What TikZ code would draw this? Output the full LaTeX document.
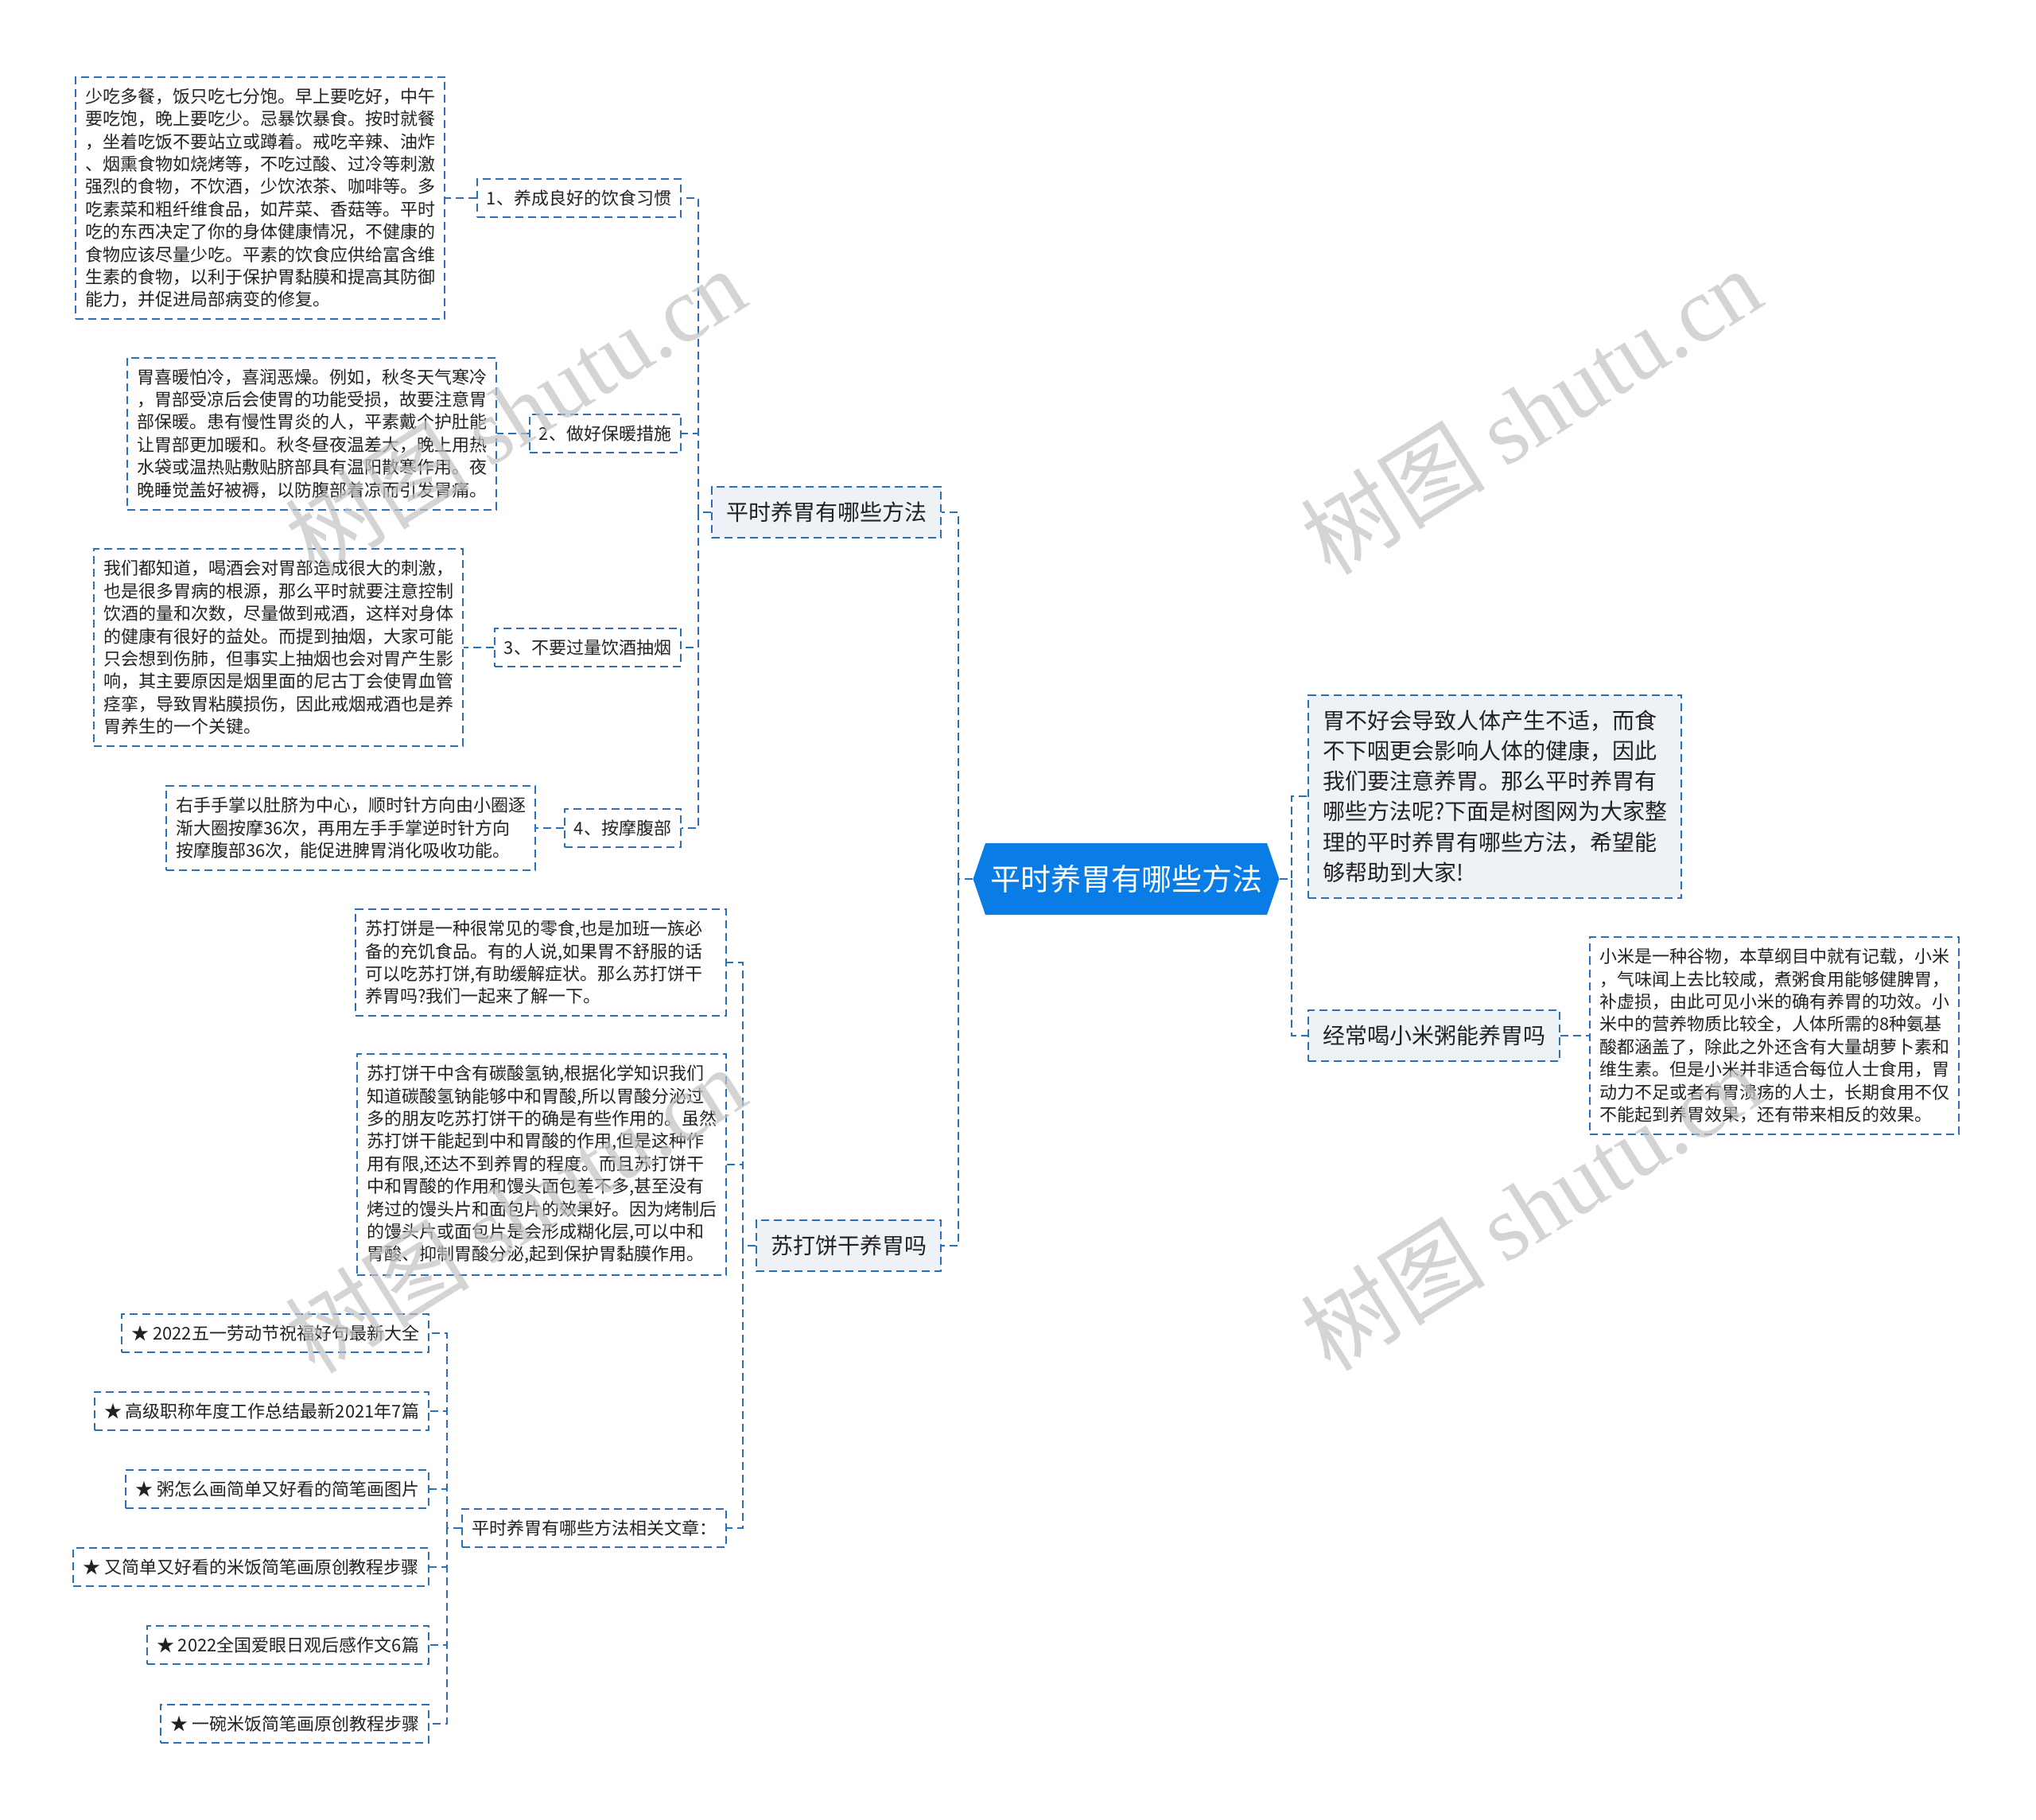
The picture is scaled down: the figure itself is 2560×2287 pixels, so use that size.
\documentclass[tikz,border=0pt]{standalone}
\usepackage{fontspec}
\setmainfont{Noto Sans CJK SC}
\newfontfamily\wmserif{Liberation Serif}
\usetikzlibrary{shapes.symbols, calc}
\definecolor{ShutuBlue}{RGB}{42, 112, 186}
\definecolor{ShutuRoot}{RGB}{10, 124, 230}
\definecolor{ShutuGray}{RGB}{238, 242, 246}
\definecolor{ShutuText}{RGB}{34, 34, 34}
\definecolor{ShutuMark}{RGB}{195, 195, 195}
\tikzset{
  mmbox/.style={draw=ShutuBlue, line width=1pt, dash pattern=on 5pt off 3pt, text=ShutuText, align=left},
  leaf/.style={mmbox, fill=white, font=\fontsize{11}{14.2}\selectfont, inner xsep=6pt, inner ysep=7pt},
  topic/.style={mmbox, fill=ShutuGray, font=\fontsize{14}{19.1}\selectfont, inner xsep=9pt, inner ysep=9.5pt},
  conn/.style={draw=ShutuBlue, line width=1pt, dash pattern=on 5pt off 3pt},
  wmark/.style={text=ShutuMark, opacity=0.7, font=\fontsize{58}{58}\selectfont, rotate=32}
}

\begin{document}
\begin{tikzpicture}[x=0.5pt, y=-0.5pt]

\useasboundingbox[fill=white] (0,0) rectangle (2560,2287);

% centre
\node[signal, signal to=east and west, signal pointer angle=142, fill=ShutuRoot, text=white,
      font=\fontsize{19}{22}\selectfont, minimum height=45pt, inner xsep=3pt] (root) at (1416,1105) {平时养胃有哪些方法};

\coordinate (busR) at (1624,0);
\coordinate (busL) at (1205,0);
\coordinate (busA) at (878,0);
\coordinate (busS) at (934,0);
\coordinate (busK) at (562,0);

% right side
\node[topic, anchor=west] (intro) at (1644,1001) {胃不好会导致人体产生不适，而食\\
不下咽更会影响人体的健康，因此\\
我们要注意养胃。那么平时养胃有\\
哪些方法呢?下面是树图网为大家整\\
理的平时养胃有哪些方法，希望能\\
够帮助到大家!};
\node[topic, anchor=west] (millet) at (1644,1302) {经常喝小米粥能养胃吗};
\node[leaf, anchor=west] (millettext) at (1998,1302) {小米是一种谷物，本草纲目中就有记载，小米\\
，气味闻上去比较咸，煮粥食用能够健脾胃，\\
补虚损，由此可见小米的确有养胃的功效。小\\
米中的营养物质比较全，人体所需的8种氨基\\
酸都涵盖了，除此之外还含有大量胡萝卜素和\\
维生素。但是小米并非适合每位人士食用，胃\\
动力不足或者有胃溃疡的人士，长期食用不仅\\
不能起到养胃效果，还有带来相反的效果。};

\foreach \c in {intro, millet}
  \draw[conn] (root.east) -- (root.east -| busR) |- (\c.west);
\draw[conn] (millet.east) -- (millettext.west);

% left side, first branch
\node[topic, anchor=east] (ways) at (1184,644) {平时养胃有哪些方法};
\node[topic, anchor=east] (soda) at (1184,1566) {苏打饼干养胃吗};

\foreach \c in {ways, soda}
  \draw[conn] (root.west) -- (root.west -| busL) |- (\c.east);

\node[leaf, anchor=east] (habit) at (857,249) {1、养成良好的饮食习惯};
\node[leaf, anchor=east] (warm) at (857,545) {2、做好保暖措施};
\node[leaf, anchor=east] (drink) at (857,814) {3、不要过量饮酒抽烟};
\node[leaf, anchor=east] (rub) at (857,1041) {4、按摩腹部};

\foreach \c in {habit, warm, drink, rub}
  \draw[conn] (ways.west) -- (ways.west -| busA) |- (\c.east);

\node[leaf, anchor=east] (habittext) at (560,249) {少吃多餐，饭只吃七分饱。早上要吃好，中午\\
要吃饱，晚上要吃少。忌暴饮暴食。按时就餐\\
，坐着吃饭不要站立或蹲着。戒吃辛辣、油炸\\
、烟熏食物如烧烤等，不吃过酸、过冷等刺激\\
强烈的食物，不饮酒，少饮浓茶、咖啡等。多\\
吃素菜和粗纤维食品，如芹菜、香菇等。平时\\
吃的东西决定了你的身体健康情况，不健康的\\
食物应该尽量少吃。平素的饮食应供给富含维\\
生素的食物，以利于保护胃黏膜和提高其防御\\
能力，并促进局部病变的修复。};
\node[leaf, anchor=east] (warmtext) at (625,545) {胃喜暖怕冷，喜润恶燥。例如，秋冬天气寒冷\\
，胃部受凉后会使胃的功能受损，故要注意胃\\
部保暖。患有慢性胃炎的人，平素戴个护肚能\\
让胃部更加暖和。秋冬昼夜温差大，晚上用热\\
水袋或温热贴敷贴脐部具有温阳散寒作用。夜\\
晚睡觉盖好被褥，以防腹部着凉而引发胃痛。};
\node[leaf, anchor=east] (drinktext) at (583,814) {我们都知道，喝酒会对胃部造成很大的刺激，\\
也是很多胃病的根源，那么平时就要注意控制\\
饮酒的量和次数，尽量做到戒酒，这样对身体\\
的健康有很好的益处。而提到抽烟，大家可能\\
只会想到伤肺，但事实上抽烟也会对胃产生影\\
响，其主要原因是烟里面的尼古丁会使胃血管\\
痉挛，导致胃粘膜损伤，因此戒烟戒酒也是养\\
胃养生的一个关键。};
\node[leaf, anchor=east] (rubtext) at (674,1041) {右手手掌以肚脐为中心，顺时针方向由小圈逐\\
渐大圈按摩36次，再用左手手掌逆时针方向\\
按摩腹部36次，能促进脾胃消化吸收功能。};

\foreach \c in {habit, warm, drink, rub}
  \draw[conn] (\c.west) -- (\c text.east);

% left side, second branch
\node[leaf, anchor=east, text width=221pt] (sodaintro) at (914,1210) {苏打饼是一种很常见的零食,也是加班一族必\\
备的充饥食品。有的人说,如果胃不舒服的话\\
可以吃苏打饼,有助缓解症状。那么苏打饼干\\
养胃吗?我们一起来了解一下。};
\node[leaf, anchor=east] (sodatext) at (914,1464) {苏打饼干中含有碳酸氢钠,根据化学知识我们\\
知道碳酸氢钠能够中和胃酸,所以胃酸分泌过\\
多的朋友吃苏打饼干的确是有些作用的。虽然\\
苏打饼干能起到中和胃酸的作用,但是这种作\\
用有限,还达不到养胃的程度。而且苏打饼干\\
中和胃酸的作用和馒头面包差不多,甚至没有\\
烤过的馒头片和面包片的效果好。因为烤制后\\
的馒头片或面包片是会形成糊化层,可以中和\\
胃酸、抑制胃酸分泌,起到保护胃黏膜作用。};
\node[leaf, anchor=east] (related) at (914,1921) {平时养胃有哪些方法相关文章：};

\foreach \c in {sodaintro, sodatext, related}
  \draw[conn] (soda.west) -- (soda.west -| busS) |- (\c.east);

\foreach \n/\y/\t in {art1/1676/{★ 2022五一劳动节祝福好句最新大全},
                      art2/1774/{★ 高级职称年度工作总结最新2021年7篇},
                      art3/1872/{★ 粥怎么画简单又好看的简笔画图片},
                      art4/1970/{★ 又简单又好看的米饭简笔画原创教程步骤},
                      art5/2068/{★ 2022全国爱眼日观后感作文6篇},
                      art6/2167/{★ 一碗米饭简笔画原创教程步骤}} {
  \node[leaf, anchor=east] (\n) at (540,\y) {\t};
  \draw[conn] (related.west) -- (related.west -| busK) |- (\n.east);
}

% watermarks
\foreach \x/\y [count=\i] in {648/516, 1925/516, 648/1520, 1925/1517}
  \node[wmark] (wm\i) at (\x,\y) {树图 {\wmserif shutu.cn}};

\end{tikzpicture}
\end{document}
